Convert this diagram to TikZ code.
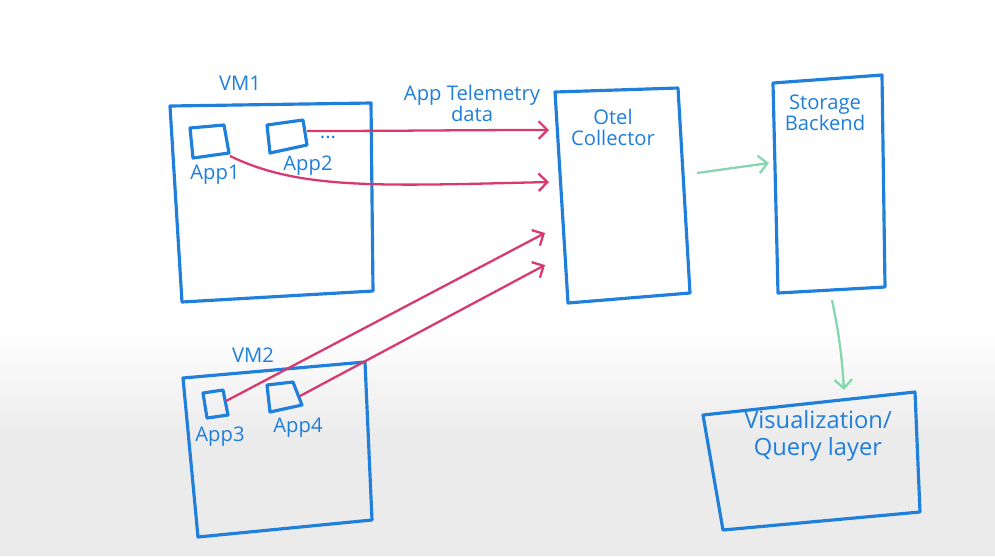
\documentclass[tikz,border=0pt]{standalone}
\usepackage{fontspec}
\setmainfont{Open Sans}
\usetikzlibrary{arrows.meta}
\definecolor{pblue}{HTML}{1F7FDB}
\definecolor{ppink}{HTML}{D93A6E}
\definecolor{pgreen}{HTML}{86D6AE}
\begin{document}
\begin{tikzpicture}[x=0.02cm,y=-0.02cm,
  box/.style={draw=pblue,line width=1.8pt,line join=round,line cap=round},
  lbl/.style={text=pblue,font=\fontsize{11.5}{12}\selectfont,inner sep=0pt,align=center},
  link/.style={draw=ppink,line width=1.3pt,-{Straight Barb[length=5pt,width=10pt,line width=1.3pt]}},
  flow/.style={draw=pgreen,line width=1.3pt,-{Straight Barb[length=5pt,width=10pt,line width=1.3pt]}}]
\useasboundingbox (0,0) rectangle (995,556);
\fill[white] (0,0) rectangle (995,556);
\shade[top color=white,bottom color=black!8] (0,330) rectangle (995,440);
\fill[black!8] (0,440) rectangle (995,556);
% VM1
\draw[box] (170,106) -- (371,103) -- (373,291) -- (182,302) -- cycle;
\node[lbl] (vm1) at (240,83) {VM1};
\draw[box] (190,128) -- (224,125) -- (229,153) -- (193,158) -- cycle;
\coordinate (app1o) at (230,156);
\node[lbl] (app1l) at (215,175) {App1};
\draw[box] (267,125) -- (303,120) -- (307,145) -- (270,153) -- cycle;
\coordinate (app2o) at (307,131);
\node[lbl] (app2l) at (308,166) {App2};
\node[lbl] (dots) at (328,137) {...};
\node[lbl] (tel) at (472,103) {App Telemetry\\data};
% VM2
\draw[box] (183,378) -- (365,362) -- (372,520) -- (198,537) -- cycle;
\node[lbl] (vm2) at (253,355) {VM2};
\draw[box] (203,393) -- (223,390) -- (228,415) -- (207,418) -- cycle;
\coordinate (app3o) at (226,401);
\node[lbl] (app3l) at (220,437) {App3};
\draw[box] (267,385) -- (293,382) -- (302,405) -- (270,412) -- cycle;
\coordinate (app4o) at (300,396);
\node[lbl] (app4l) at (298,428) {App4};
% Collector
\draw[box] (555,92) -- (678,88) -- (690,293) -- (568,303) -- cycle;
\node[lbl] (col) at (613,127) {Otel\\Collector};
\coordinate (c1) at (549,130);
\coordinate (c2) at (549,182);
\coordinate (c3) at (545,233);
\coordinate (c4) at (545,265);
\coordinate (colo) at (697,173);
% Storage
\draw[box] (773,83) -- (882,75) -- (885,287) -- (778,293) -- cycle;
\node[lbl] (sto) at (825,113) {Storage\\Backend};
\coordinate (stoi) at (769,163);
\coordinate (stoo) at (832,300);
% Visualization
\draw[box] (703,415) -- (915,392) -- (920,512) -- (723,530) -- cycle;
\node[lbl,font=\fontsize{13.5}{15}\selectfont] (vis) at (818,436) {Visualization/\\Query layer};
\coordinate (visi) at (844,390);
% connectors
\draw[link] (app2o) to[out=0,in=180] (c1);
\draw[link] (app1o) .. controls (300,190) and (380,186) .. (c2);
\draw[link] (app3o) -- (c3);
\draw[link] (app4o) -- (c4);
\draw[flow] (colo) -- (stoi);
\draw[flow] (stoo) to[bend left=4] (visi);
\end{tikzpicture}
\end{document}
